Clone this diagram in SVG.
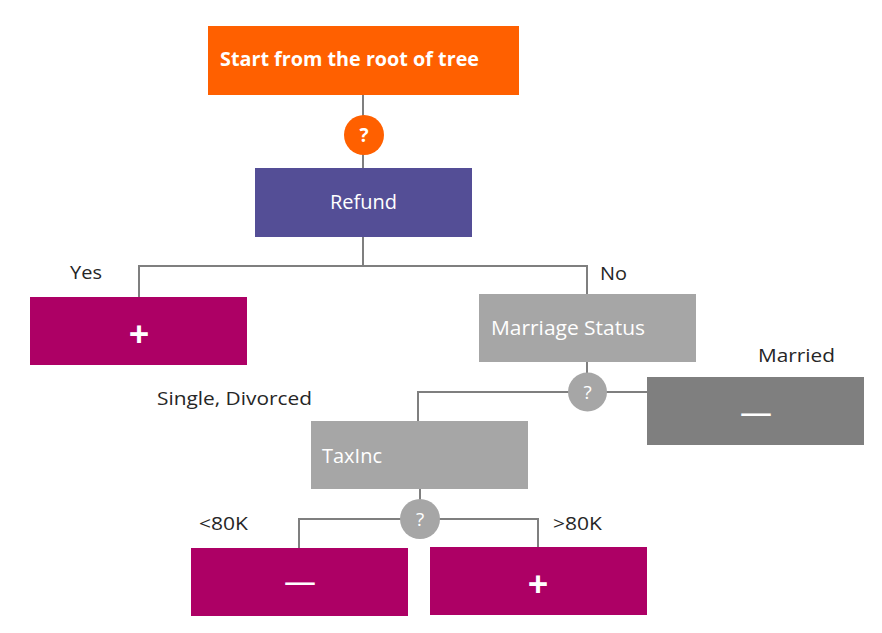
<svg xmlns="http://www.w3.org/2000/svg" width="882" height="633" viewBox="0 0 882 633">
<style>
.conn{fill:none;stroke:#7F7F7F;stroke-width:2}
text{font-family:"Open Sans","Noto Sans","Liberation Sans",sans-serif}
.w{fill:#FFFFFF}
.lbl{fill:#262626;font-size:19px}
.nt{fill:#FFFFFF;font-size:20px}
.sym{fill:#FFFFFF;font-size:36px;font-weight:bold;text-anchor:middle}
.mn{fill:#FFFFFF;font-size:32px;text-anchor:middle}
.q{fill:#FFFFFF;font-size:19px;text-anchor:middle}
</style>
<rect width="882" height="633" fill="#FFFFFF"/>
<g id="connectors">
<line class="conn" x1="363" y1="95" x2="363" y2="168"/>
<polyline class="conn" points="363,237 363,266"/>
<polyline class="conn" points="139,297 139,266 587,266 587,294"/>
<polyline class="conn" points="587,362 587,392"/>
<polyline class="conn" points="418,421 418,392 647,392"/>
<polyline class="conn" points="420,489 420,519"/>
<polyline class="conn" points="299,548 299,519 538,519 538,547"/>
</g>
<g id="start">
<rect x="208" y="26" width="311" height="69" fill="#FF6000"/>
<text x="220" y="66" class="w" font-size="20" font-weight="bold" textLength="259" lengthAdjust="spacingAndGlyphs">Start from the root of tree</text>
</g>
<g id="q1">
<circle cx="364" cy="135" r="20" fill="#FF6000"/>
<text x="364" y="142" class="q" font-weight="bold">?</text>
</g>
<g id="refund">
<rect x="255" y="168" width="217" height="69" fill="#544E96"/>
<text x="330" y="209" class="nt" textLength="67" lengthAdjust="spacingAndGlyphs">Refund</text>
</g>
<g id="yes-leaf">
<rect x="30" y="297" width="217" height="68" fill="#AD0065"/>
<text x="139" y="347" class="sym">+</text>
</g>
<g id="marriage">
<rect x="479" y="294" width="217" height="68" fill="#A6A6A6"/>
<text x="491" y="335" class="nt" textLength="154" lengthAdjust="spacingAndGlyphs">Marriage Status</text>
</g>
<g id="q2">
<circle cx="587.5" cy="392" r="19.5" fill="#A6A6A6"/>
<text x="587.5" y="399" class="q">?</text>
</g>
<g id="married-leaf">
<rect x="647" y="377" width="217" height="68" fill="#7F7F7F"/>
<text x="756" y="424" class="mn">—</text>
</g>
<g id="taxinc">
<rect x="311" y="421" width="217" height="68" fill="#A6A6A6"/>
<text x="322" y="463" class="nt" textLength="60" lengthAdjust="spacingAndGlyphs">TaxInc</text>
</g>
<g id="q3">
<circle cx="420" cy="519" r="20" fill="#A6A6A6"/>
<text x="420" y="526" class="q">?</text>
</g>
<g id="low-leaf">
<rect x="191" y="548" width="217" height="68" fill="#AD0065"/>
<text x="300" y="593" class="mn">—</text>
</g>
<g id="high-leaf">
<rect x="430" y="547" width="217" height="68" fill="#AD0065"/>
<text x="538" y="597" class="sym">+</text>
</g>
<g id="labels">
<text x="70" y="279" class="lbl" textLength="32" lengthAdjust="spacingAndGlyphs">Yes</text>
<text x="600" y="280" class="lbl" textLength="27" lengthAdjust="spacingAndGlyphs">No</text>
<text x="758" y="362" class="lbl" textLength="77" lengthAdjust="spacingAndGlyphs">Married</text>
<text x="157" y="405" class="lbl" textLength="155" lengthAdjust="spacingAndGlyphs">Single, Divorced</text>
<text x="199" y="530" class="lbl" textLength="49" lengthAdjust="spacingAndGlyphs">&lt;80K</text>
<text x="553" y="530" class="lbl" textLength="49" lengthAdjust="spacingAndGlyphs">&gt;80K</text>
</g>
</svg>
